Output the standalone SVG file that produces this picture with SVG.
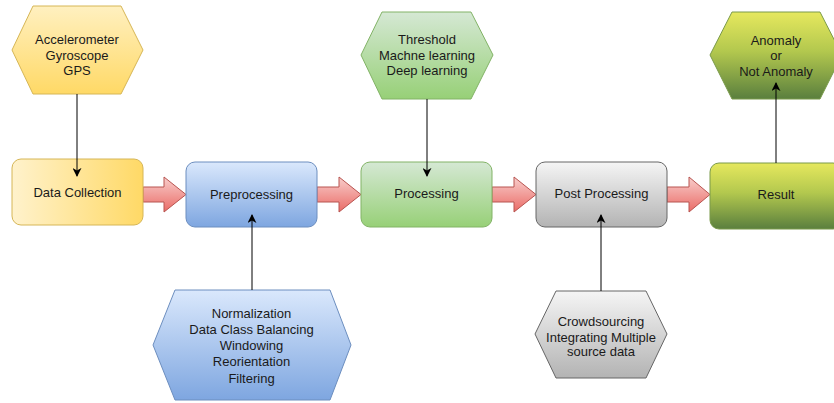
<svg xmlns="http://www.w3.org/2000/svg" width="834" height="403" viewBox="0 0 834 403">
<defs>
  <linearGradient id="gYellowV" x1="0" y1="0" x2="0" y2="1"><stop offset="0" stop-color="#fff0c0"/><stop offset="1" stop-color="#ffd966"/></linearGradient>
  <linearGradient id="gYellowH" x1="0" y1="0" x2="1" y2="0"><stop offset="0" stop-color="#fff2cc"/><stop offset="1" stop-color="#ffd966"/></linearGradient>
  <linearGradient id="gBlue" x1="0" y1="0" x2="0" y2="1"><stop offset="0" stop-color="#dae8fc"/><stop offset="1" stop-color="#7ea6e0"/></linearGradient>
  <linearGradient id="gGreen" x1="0" y1="0" x2="0" y2="1"><stop offset="0" stop-color="#d5e8d4"/><stop offset="1" stop-color="#97d077"/></linearGradient>
  <linearGradient id="gGrey" x1="0" y1="0" x2="0" y2="1"><stop offset="0" stop-color="#f5f5f5"/><stop offset="1" stop-color="#b3b3b3"/></linearGradient>
  <linearGradient id="gOlive" x1="0" y1="0" x2="0" y2="1"><stop offset="0" stop-color="#e6e85e"/><stop offset="0.45" stop-color="#b3c84e"/><stop offset="1" stop-color="#5a7f3e"/></linearGradient>
  <linearGradient id="gPink" x1="0" y1="0" x2="0" y2="1"><stop offset="0" stop-color="#f8cecc"/><stop offset="1" stop-color="#ea6b66"/></linearGradient>
  <marker id="arrow" viewBox="0 0 10 10" refX="9" refY="5" markerWidth="9" markerHeight="9" markerUnits="userSpaceOnUse" orient="auto">
    <path d="M0,0 L10,5 L0,10 L3,5 Z" fill="#000"/>
  </marker>
</defs>
<style>
  text { font-family: "Liberation Sans", Arial, sans-serif; font-size: 13px; fill: #1a1a1a; text-anchor: middle; }
  .conn { stroke: #000; stroke-width: 1; fill: none; marker-end: url(#arrow); }
  .block { fill: url(#gPink); stroke: #b85450; stroke-width: 1; }
</style>
<rect x="0" y="0" width="834" height="403" fill="#ffffff"/>

<g id="connectors">
  <path class="block" d="M143,187 H164 V177 L186,194.5 L164,212 V202 H143 Z"/>
  <path class="block" d="M317,187 H339 V177 L361,194.5 L339,212 V202 H317 Z"/>
  <path class="block" d="M492,187 H514 V177 L536,194.5 L514,212 V202 H492 Z"/>
  <path class="block" d="M667,187 H689 V177 L710,194.5 L689,212 V202 H667 Z"/>
</g>

<g id="sensors">
  <polygon points="12,50 33,6 121,6 143,50 121,94 33,94" fill="url(#gYellowV)" stroke="#d6b656"/>
  <text x="77" y="44">Accelerometer</text>
  <text x="77" y="59.5">Gyroscope</text>
  <text x="77" y="75">GPS</text>
</g>
<g id="data-collection">
  <rect x="12" y="159" width="131" height="66" rx="9" fill="url(#gYellowH)" stroke="#d6b656"/>
  <text x="77.5" y="197">Data Collection</text>
</g>
<g id="preprocessing">
  <rect x="186" y="162" width="131" height="65" rx="9" fill="url(#gBlue)" stroke="#6c8ebf"/>
  <text x="251.5" y="199">Preprocessing</text>
</g>
<g id="processing">
  <rect x="361" y="162" width="131" height="65" rx="9" fill="url(#gGreen)" stroke="#82b366"/>
  <text x="426.5" y="197.5">Processing</text>
</g>
<g id="post-processing">
  <rect x="536" y="162" width="131" height="65" rx="9" fill="url(#gGrey)" stroke="#666666"/>
  <text x="601.5" y="197.5">Post Processing</text>
</g>
<g id="result">
  <rect x="710" y="163" width="132" height="66" rx="9" fill="url(#gOlive)" stroke="#7a9a4a"/>
  <text x="776" y="199">Result</text>
</g>
<g id="methods">
  <polygon points="361,55 382,12 471,12 493,55 471,99 382,99" fill="url(#gGreen)" stroke="#82b366"/>
  <text x="427" y="44">Threshold</text>
  <text x="427" y="59.5">Machne learning</text>
  <text x="427" y="75">Deep learning</text>
</g>
<g id="anomaly">
  <polygon points="710,55 732,12 820,12 842,55 820,99 732,99" fill="url(#gOlive)" stroke="#7a9a4a"/>
  <text x="776" y="45">Anomaly</text>
  <text x="776" y="60">or</text>
  <text x="776" y="75.5">Not Anomaly</text>
</g>
<g id="preprocessing-steps">
  <polygon points="153,345 175,290 330,290 351,345 330,400 175,400" fill="url(#gBlue)" stroke="#6c8ebf"/>
  <text x="251.5" y="317.5">Normalization</text>
  <text x="251.5" y="334">Data Class Balancing</text>
  <text x="251.5" y="350">Windowing</text>
  <text x="251.5" y="366">Reorientation</text>
  <text x="251.5" y="382.5">Filtering</text>
</g>
<g id="sources">
  <polygon points="535,334 556,291 646,291 667,334 646,378 556,378" fill="url(#gGrey)" stroke="#666666"/>
  <text x="601" y="326">Crowdsourcing</text>
  <text x="601" y="341.5">Integrating Multiple</text>
  <text x="601" y="356">source data</text>
</g>

<g id="arrows">
  <line class="conn" x1="77" y1="94" x2="77" y2="176"/>
  <line class="conn" x1="427" y1="99" x2="427" y2="176"/>
  <line class="conn" x1="252" y1="290" x2="252" y2="215"/>
  <line class="conn" x1="601" y1="291" x2="601" y2="215"/>
  <line class="conn" x1="776" y1="163" x2="776" y2="83"/>
</g>
</svg>
